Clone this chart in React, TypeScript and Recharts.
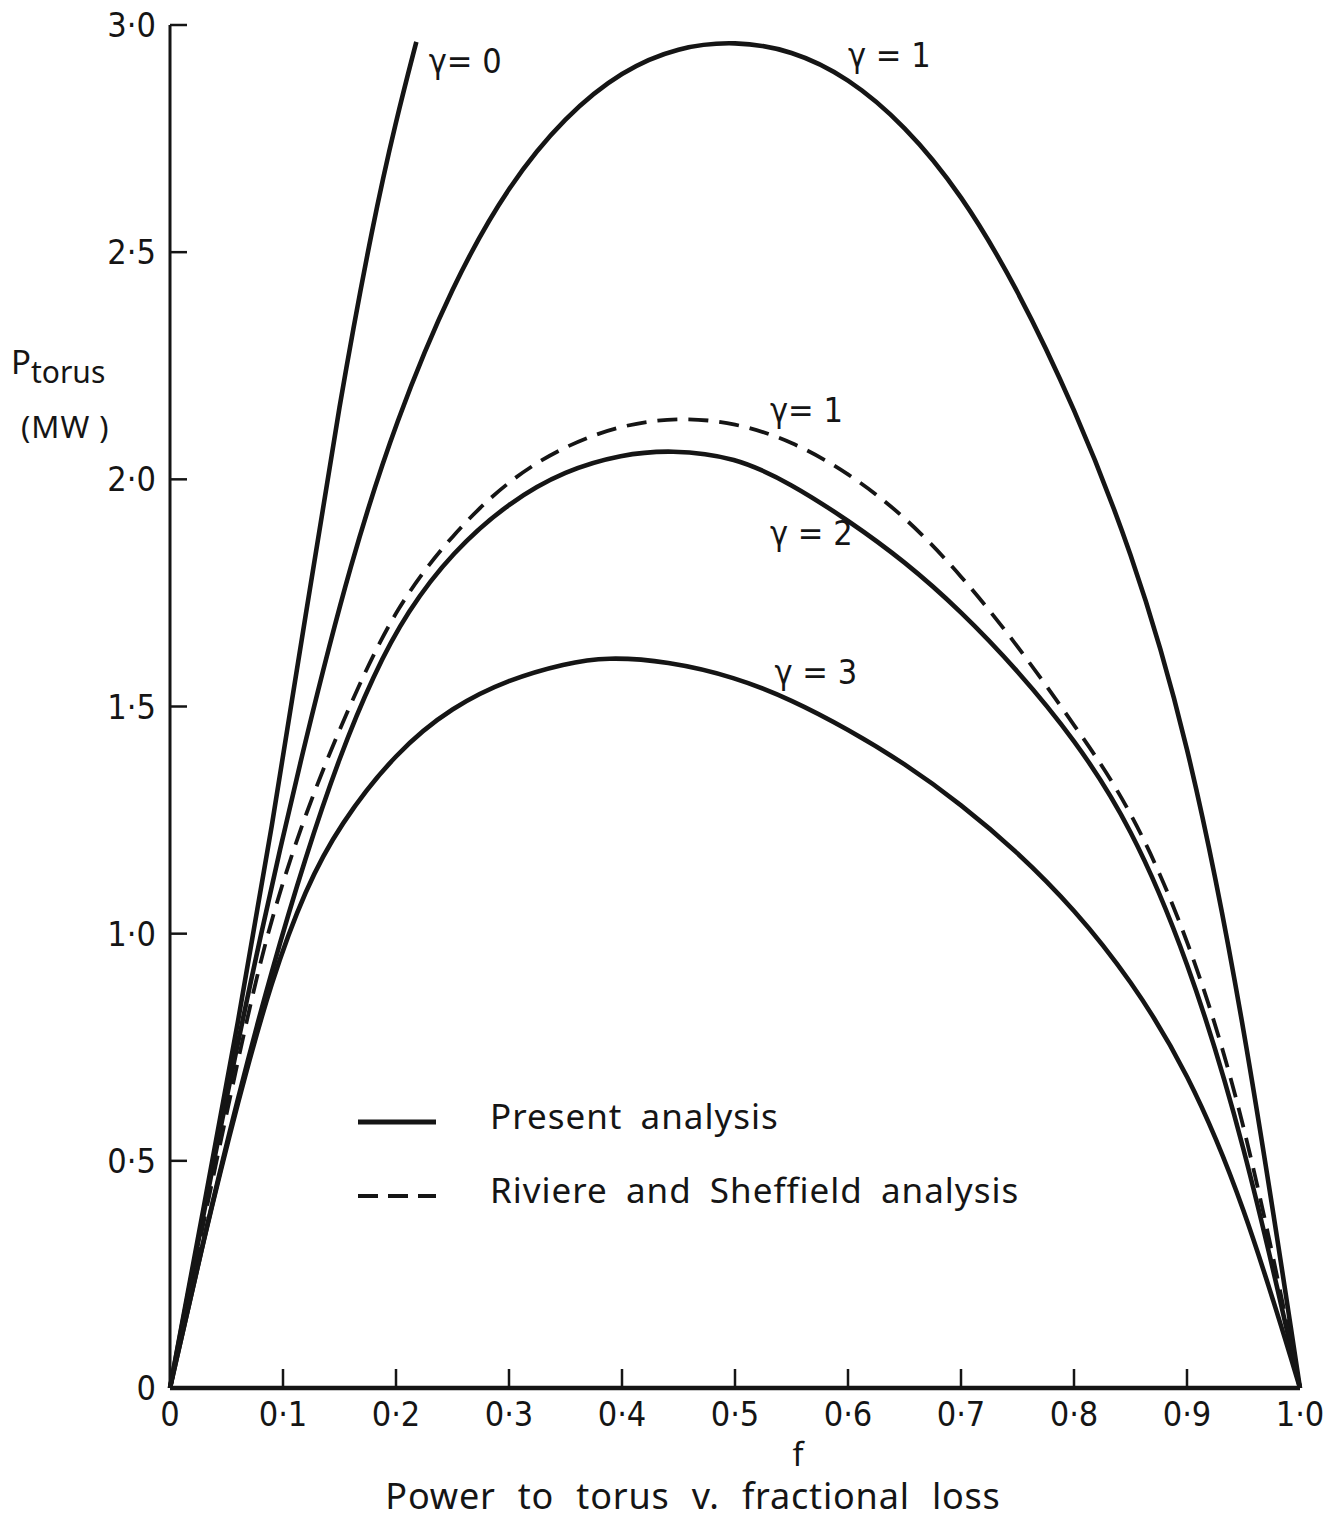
import React from 'react'
import {
  LineChart,
  Line,
  XAxis,
  YAxis,
  ReferenceDot,
} from 'recharts'

// f (fractional loss) vs P torus (MW)
const gamma0 = [
  { f: 0, p: 0 },
  { f: 0.03, p: 0.4 },
  { f: 0.06, p: 0.8 },
  { f: 0.09, p: 1.23 },
  { f: 0.12, p: 1.7 },
  { f: 0.15, p: 2.17 },
  { f: 0.18, p: 2.57 },
  { f: 0.2, p: 2.79 },
  { f: 0.218, p: 2.963 },
]

const gamma1 = [
  { f: 0, p: 0 },
  { f: 0.04, p: 0.52 },
  { f: 0.08, p: 1.0 },
  { f: 0.12, p: 1.43 },
  { f: 0.16, p: 1.82 },
  { f: 0.2, p: 2.13 },
  { f: 0.25, p: 2.43 },
  { f: 0.3, p: 2.65 },
  { f: 0.35, p: 2.8 },
  { f: 0.4, p: 2.9 },
  { f: 0.45, p: 2.952 },
  { f: 0.5, p: 2.965 },
  { f: 0.55, p: 2.945 },
  { f: 0.6, p: 2.885 },
  { f: 0.65, p: 2.78 },
  { f: 0.7, p: 2.63 },
  { f: 0.75, p: 2.42 },
  { f: 0.8, p: 2.16 },
  { f: 0.85, p: 1.85 },
  { f: 0.9, p: 1.44 },
  { f: 0.95, p: 0.82 },
  { f: 1.0, p: 0 },
]

const gamma2 = [
  { f: 0, p: 0 },
  { f: 0.03, p: 0.33 },
  { f: 0.06, p: 0.64 },
  { f: 0.09, p: 0.92 },
  { f: 0.12, p: 1.17 },
  { f: 0.15, p: 1.39 },
  { f: 0.18, p: 1.57 },
  { f: 0.21, p: 1.71 },
  { f: 0.25, p: 1.84 },
  { f: 0.3, p: 1.95 },
  { f: 0.35, p: 2.02 },
  { f: 0.4, p: 2.055 },
  { f: 0.443, p: 2.065 },
  { f: 0.5, p: 2.05 },
  { f: 0.55, p: 1.99 },
  { f: 0.6, p: 1.91 },
  { f: 0.65, p: 1.82 },
  { f: 0.7, p: 1.71 },
  { f: 0.75, p: 1.58 },
  { f: 0.8, p: 1.43 },
  { f: 0.85, p: 1.24 },
  { f: 0.9, p: 0.95 },
  { f: 0.95, p: 0.55 },
  { f: 1.0, p: 0 },
]

const gamma3 = [
  { f: 0, p: 0 },
  { f: 0.03, p: 0.33 },
  { f: 0.06, p: 0.63 },
  { f: 0.09, p: 0.9 },
  { f: 0.12, p: 1.1 },
  { f: 0.15, p: 1.24 },
  { f: 0.2, p: 1.4 },
  { f: 0.25, p: 1.5 },
  { f: 0.3, p: 1.56 },
  { f: 0.35, p: 1.595 },
  { f: 0.386, p: 1.609 },
  { f: 0.44, p: 1.6 },
  { f: 0.5, p: 1.565 },
  { f: 0.55, p: 1.515 },
  { f: 0.6, p: 1.45 },
  { f: 0.65, p: 1.375 },
  { f: 0.7, p: 1.285 },
  { f: 0.75, p: 1.18 },
  { f: 0.8, p: 1.055 },
  { f: 0.85, p: 0.9 },
  { f: 0.9, p: 0.7 },
  { f: 0.95, p: 0.41 },
  { f: 1.0, p: 0 },
]

// Riviere and Sheffield, gamma = 1
const rivSheff1 = [
  { f: 0, p: 0 },
  { f: 0.03, p: 0.37 },
  { f: 0.06, p: 0.72 },
  { f: 0.085, p: 1.0 },
  { f: 0.12, p: 1.27 },
  { f: 0.16, p: 1.51 },
  { f: 0.2, p: 1.72 },
  { f: 0.25, p: 1.88 },
  { f: 0.3, p: 2.0 },
  { f: 0.35, p: 2.075 },
  { f: 0.4, p: 2.12 },
  { f: 0.45, p: 2.137 },
  { f: 0.5, p: 2.125 },
  { f: 0.55, p: 2.085 },
  { f: 0.6, p: 2.015 },
  { f: 0.65, p: 1.92 },
  { f: 0.7, p: 1.79 },
  { f: 0.75, p: 1.635 },
  { f: 0.8, p: 1.46 },
  { f: 0.85, p: 1.28 },
  { f: 0.9, p: 1.0 },
  { f: 0.95, p: 0.61 },
  { f: 1.0, p: 0 },
]

const xTicks = [0, 0.1, 0.2, 0.3, 0.4, 0.5, 0.6, 0.7, 0.8, 0.9, 1.0]
const yTicks = [0, 0.5, 1.0, 1.5, 2.0, 2.5, 3.0]

const curveLabels = [
  { text: 'γ= 0', f: 0.229, p: 2.92 },
  { text: 'γ = 1', f: 0.6, p: 2.934 },
  { text: 'γ= 1', f: 0.531, p: 2.153 },
  { text: 'γ = 2', f: 0.531, p: 1.882 },
  { text: 'γ = 3', f: 0.535, p: 1.576 },
]

const legendItems = [
  { label: 'Present analysis', dashed: false },
  { label: 'Riviere and Sheffield analysis', dashed: true },
]

const INK = '#151515'
const FONT = '"Liberation Sans Narrow", "DejaVu Sans Condensed", "Noto Sans", sans-serif'
const TEXT_FONT = '"Noto Sans", "DejaVu Sans", sans-serif'
const DASH = '20 11'

// decimal point drawn as a raised dot, like the original lettering
const fmt = (v: number) => (v === 0 ? '0' : v.toFixed(1).replace('.', '·'))

const XTick = ({ x, y, payload }: any) => (
  <g>
    {payload.value > 0 && payload.value < 1 && (
      <line x1={x} y1={y} x2={x} y2={y - 19} stroke={INK} strokeWidth={2.5} />
    )}
    <text
      x={x}
      y={y + 26}
      textAnchor="middle"
      dominantBaseline="central"
      fontFamily={FONT}
      fontSize={34}
      fill={INK}
    >
      {fmt(payload.value)}
    </text>
  </g>
)

const YTick = ({ x, y, payload }: any) => (
  <g>
    {payload.value > 0 && (
      <line x1={x} y1={y} x2={x + 17} y2={y} stroke={INK} strokeWidth={2.5} />
    )}
    <text
      x={x - 14}
      y={y}
      textAnchor="end"
      dominantBaseline="central"
      fontFamily={FONT}
      fontSize={34}
      fill={INK}
    >
      {fmt(payload.value)}
    </text>
  </g>
)

const lineProps = {
  dataKey: 'p',
  type: 'basis' as const,
  stroke: INK,
  dot: false,
  isAnimationActive: false,
}

export default function App() {
  return (
    <div
      style={{
        position: 'absolute',
        left: 0,
        top: 0,
        width: 1343,
        height: 1524,
        background: '#fff',
        color: INK,
      }}
    >
      <LineChart
        width={1343}
        height={1524}
        margin={{ top: 25, right: 43, bottom: 0, left: 0 }}
      >
        <XAxis
          type="number"
          dataKey="f"
          domain={[0, 1]}
          ticks={xTicks}
          tick={<XTick />}
          tickLine={false}
          tickSize={0}
          tickMargin={0}
          height={136}
          axisLine={{ stroke: INK, strokeWidth: 4.5 }}
          interval={0}
          allowDuplicatedCategory={false}
        />
        <YAxis
          type="number"
          domain={[0, 3]}
          ticks={yTicks}
          tick={<YTick />}
          tickLine={false}
          tickSize={0}
          tickMargin={0}
          width={170}
          axisLine={{ stroke: INK, strokeWidth: 3 }}
          interval={0}
        />
        <Line data={gamma0} {...lineProps} strokeWidth={4.6} />
        <Line data={gamma1} {...lineProps} strokeWidth={4.6} />
        <Line data={gamma2} {...lineProps} strokeWidth={4.6} />
        <Line data={gamma3} {...lineProps} strokeWidth={4.6} />
        <Line data={rivSheff1} {...lineProps} strokeWidth={3.8} strokeDasharray={DASH} />
        {curveLabels.map((c, i) => (
          <ReferenceDot
            key={i}
            x={c.f}
            y={c.p}
            r={0}
            shape={(props: any) => (
              <text
                x={props.cx}
                y={props.cy}
                dominantBaseline="central"
                fontFamily={FONT}
                fontSize={34}
                fill={INK}
              >
                {c.text}
              </text>
            )}
          />
        ))}
      </LineChart>

      {/* y axis title */}
      <div
        style={{
          position: 'absolute',
          left: 11,
          top: 345,
          fontFamily: TEXT_FONT,
          fontSize: 33,
          lineHeight: 1,
          whiteSpace: 'nowrap',
        }}
      >
        P
        <span style={{ fontSize: 30, position: 'relative', top: 9 }}>torus</span>
      </div>
      <div
        style={{
          position: 'absolute',
          left: 21,
          top: 411,
          fontFamily: TEXT_FONT,
          fontSize: 31,
          lineHeight: 1,
          letterSpacing: 1,
          whiteSpace: 'nowrap',
        }}
      >
        (MW )
      </div>

      {/* x axis title and caption */}
      <div
        style={{
          position: 'absolute',
          left: 0,
          width: 1596,
          top: 1438,
          textAlign: 'center',
          fontFamily: TEXT_FONT,
          fontSize: 32,
          lineHeight: 1,
        }}
      >
        f
      </div>
      <div
        style={{
          position: 'absolute',
          left: 0,
          width: 1386,
          top: 1478,
          textAlign: 'center',
          fontFamily: TEXT_FONT,
          fontSize: 36,
          lineHeight: 1,
          letterSpacing: 0.8,
          wordSpacing: 12,
          whiteSpace: 'nowrap',
        }}
      >
        Power to torus v. fractional loss
      </div>

      {/* legend */}
      <svg
        width={900}
        height={170}
        style={{ position: 'absolute', left: 350, top: 1080, overflow: 'visible' }}
      >
        {legendItems.map((item, i) => (
          <g key={item.label} transform={`translate(0, ${42 + i * 74})`}>
            <line
              x1={8}
              x2={86}
              y1={0}
              y2={0}
              stroke={INK}
              strokeWidth={item.dashed ? 4 : 5}
              strokeDasharray={item.dashed ? '20 10' : undefined}
            />
            <text
              x={140}
              y={-7}
              dominantBaseline="central"
              fontFamily={TEXT_FONT}
              fontSize={35}
              letterSpacing={1}
              wordSpacing={8}
              fill={INK}
            >
              {item.label}
            </text>
          </g>
        ))}
      </svg>
    </div>
  )
}
